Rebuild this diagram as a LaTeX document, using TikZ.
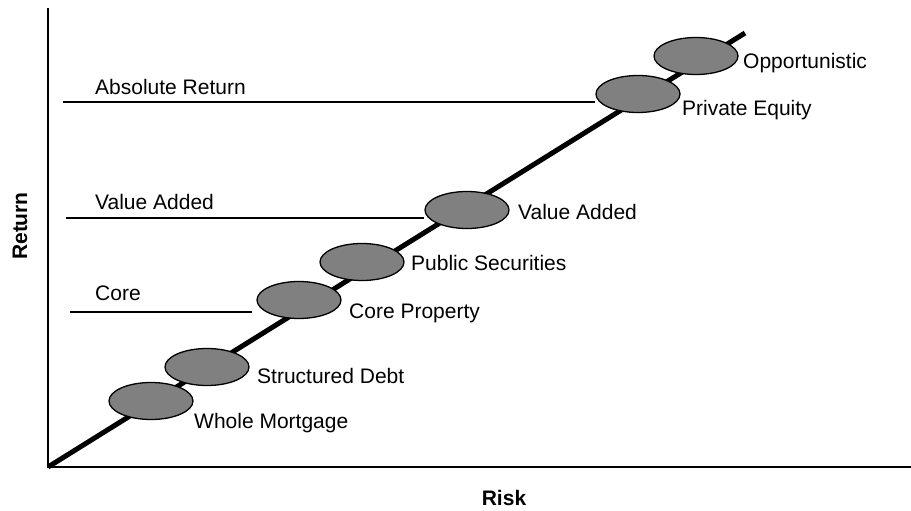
\documentclass[tikz,border=0pt]{standalone}
\usepackage{fontspec}
\setmainfont{Liberation Sans}
\usepackage{tikz}
\usetikzlibrary{positioning,shapes.geometric}

\definecolor{assetgray}{HTML}{808080}
\tikzset{
  asset/.style={ellipse, draw=black, line width=1.3pt, fill=assetgray, minimum width=84pt, minimum height=37pt, inner sep=0pt},
  tag/.style={anchor=base west, inner sep=0pt, font=\fontsize{21}{25}\selectfont},
  axistag/.style={inner sep=0pt, font=\fontsize{21}{25}\selectfont\bfseries}
}

\begin{document}
\begin{tikzpicture}[x=1pt, y=-1pt]
\useasboundingbox (0,0) rectangle (911,511);
\coordinate (o) at (48,467);
\coordinate (ytop) at (48,8);
\coordinate (xend) at (911,467);
\coordinate (top) at (745,33);
\draw[black, line width=2pt] (ytop) -- (o) -- (xend);
\draw[black, line width=5pt] (o) -- (top);
\node[axistag, rotate=90] (ret) at (20,226) {Return};
\node[axistag] (risk) at (504,498) {Risk};
\node[asset] (wm) at (151,401) {};
\node[asset] (sd) at (207,367) {};
\node[asset] (cp) at (299,300) {};
\node[asset] (ps) at (362,262) {};
\node[asset] (va) at (467,210) {};
\node[asset] (pe) at (638,94) {};
\node[asset] (op) at (696,56) {};
\node[tag] (wmt) at (194,428) {Whole Mortgage};
\node[tag] (sdt) at (257,383) {Structured Debt};
\node[tag] (cpt) at (349,318) {Core Property};
\node[tag] (pst) at (411,270) {Public Securities};
\node[tag] (vat) at (518,219) {Value Added};
\node[tag] (pet) at (682,115) {Private Equity};
\node[tag] (opt) at (743,69) {Opportunistic};
\node[tag] (abst) at (95,95) {Absolute Return};
\node[tag] (vast) at (95,209) {Value Added};
\node[tag] (coret) at (95,300) {Core};
\coordinate (absl) at (63,102);
\coordinate (val) at (66,218);
\coordinate (corel) at (70,312);
\coordinate (corer) at (252,312);
\draw[black, line width=2pt] (absl) -- (absl -| pe.west);
\draw[black, line width=2pt] (val) -- (val -| va.west);
\draw[black, line width=2pt] (corel) -- (corer);
\end{tikzpicture}
\end{document}
